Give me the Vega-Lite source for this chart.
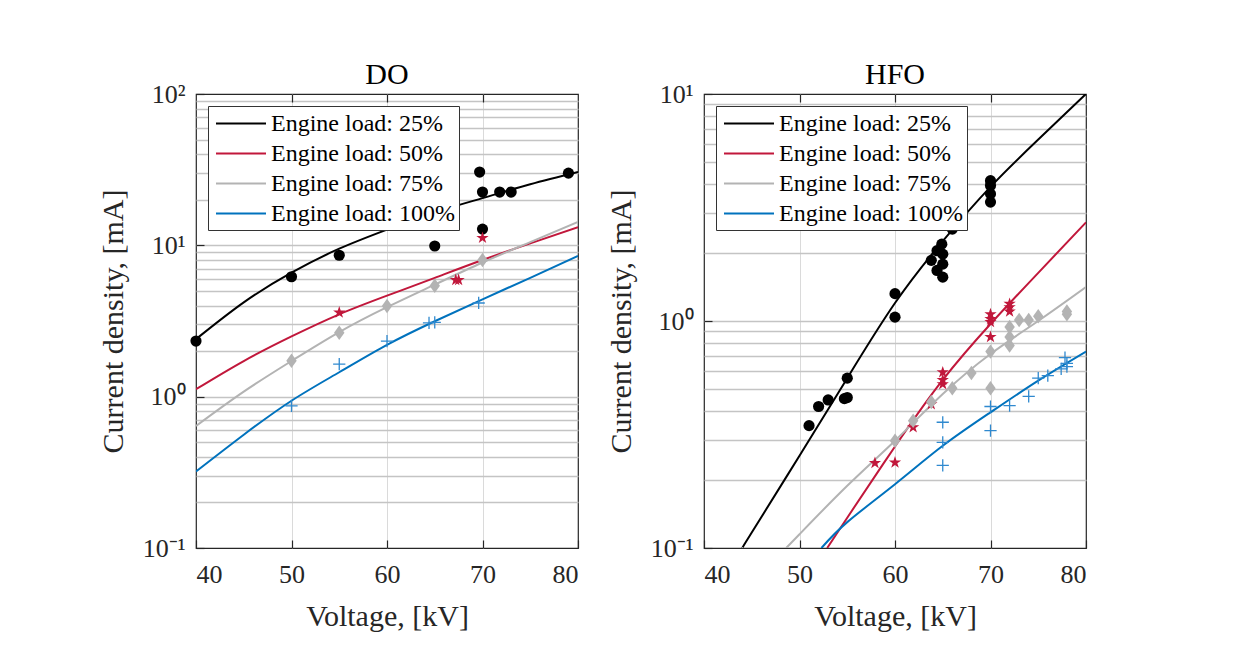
{
  "$schema": "https://vega.github.io/schema/vega-lite/v6.json",
  "background": "white",
  "padding": {"left": 97, "top": 59, "right": 20, "bottom": 10},
  "spacing": 126,
  "bounds": "flush",
  "config": {
    "font": "Liberation Serif",
    "view": {"stroke": "#262626", "strokeWidth": 1.2},
    "axis": {
      "labelFont": "Liberation Serif", "titleFont": "Liberation Serif",
      "labelFontSize": 26, "titleFontSize": 30, "titleFontWeight": "normal",
      "labelColor": "#262626", "titleColor": "#262626", "tickColor": "#262626",
      "gridColor": "#c4c4c4", "gridOpacity": 1, "gridWidth": 1.5, "domain": false, "tickWidth": 1.2
    },
    "title": {"font": "Liberation Serif", "fontSize": 30, "fontWeight": "normal", "color": "black", "offset": -9},
    "legend": {
      "orient": "top-left", "offset": 12, "title": null,
      "strokeColor": "#333333", "fillColor": "white", "padding": 4,
      "symbolType": "M-0.76,0H3.24", "symbolSize": 625, "symbolStrokeWidth": 2,
      "labelFont": "Liberation Serif", "labelFontSize": 24, "labelColor": "black",
      "rowPadding": 4, "labelOffset": 32, "labelLimit": 400
    }
  },
  "datasets": {
    "do_fit": [
      {"load": "Engine load: 25%", "V": 40, "J": 2.4},
      {"load": "Engine load: 25%", "V": 45, "J": 4.2},
      {"load": "Engine load: 25%", "V": 50, "J": 6.6},
      {"load": "Engine load: 25%", "V": 55, "J": 9.5},
      {"load": "Engine load: 25%", "V": 60, "J": 12.7},
      {"load": "Engine load: 25%", "V": 65, "J": 16.5},
      {"load": "Engine load: 25%", "V": 70, "J": 20.5},
      {"load": "Engine load: 25%", "V": 75, "J": 25.3},
      {"load": "Engine load: 25%", "V": 80, "J": 30.5},
      {"load": "Engine load: 50%", "V": 40, "J": 1.12},
      {"load": "Engine load: 50%", "V": 45, "J": 1.72},
      {"load": "Engine load: 50%", "V": 50, "J": 2.5},
      {"load": "Engine load: 50%", "V": 55, "J": 3.5},
      {"load": "Engine load: 50%", "V": 60, "J": 4.65},
      {"load": "Engine load: 50%", "V": 65, "J": 6.1},
      {"load": "Engine load: 50%", "V": 70, "J": 8.0},
      {"load": "Engine load: 50%", "V": 75, "J": 10.3},
      {"load": "Engine load: 50%", "V": 80, "J": 13.2},
      {"load": "Engine load: 75%", "V": 40, "J": 0.64},
      {"load": "Engine load: 75%", "V": 45, "J": 1.08},
      {"load": "Engine load: 75%", "V": 50, "J": 1.72},
      {"load": "Engine load: 75%", "V": 55, "J": 2.67},
      {"load": "Engine load: 75%", "V": 60, "J": 3.9},
      {"load": "Engine load: 75%", "V": 65, "J": 5.5},
      {"load": "Engine load: 75%", "V": 70, "J": 7.7},
      {"load": "Engine load: 75%", "V": 75, "J": 10.5},
      {"load": "Engine load: 75%", "V": 80, "J": 14.3},
      {"load": "Engine load: 100%", "V": 40, "J": 0.32},
      {"load": "Engine load: 100%", "V": 45, "J": 0.56},
      {"load": "Engine load: 100%", "V": 50, "J": 0.94},
      {"load": "Engine load: 100%", "V": 55, "J": 1.45},
      {"load": "Engine load: 100%", "V": 60, "J": 2.2},
      {"load": "Engine load: 100%", "V": 65, "J": 3.15},
      {"load": "Engine load: 100%", "V": 70, "J": 4.4},
      {"load": "Engine load: 100%", "V": 75, "J": 6.1},
      {"load": "Engine load: 100%", "V": 80, "J": 8.5}
    ],
    "do_pts": [
      {"load": "Engine load: 25%", "V": 40, "J": 2.33},
      {"load": "Engine load: 25%", "V": 50, "J": 6.2},
      {"load": "Engine load: 25%", "V": 55, "J": 8.6},
      {"load": "Engine load: 25%", "V": 65, "J": 9.9},
      {"load": "Engine load: 25%", "V": 69.7, "J": 30.5},
      {"load": "Engine load: 25%", "V": 70, "J": 22.5},
      {"load": "Engine load: 25%", "V": 70, "J": 12.8},
      {"load": "Engine load: 25%", "V": 71.8, "J": 22.5},
      {"load": "Engine load: 25%", "V": 73, "J": 22.5},
      {"load": "Engine load: 25%", "V": 79, "J": 30},
      {"load": "Engine load: 50%", "V": 55, "J": 3.6},
      {"load": "Engine load: 50%", "V": 67.2, "J": 5.9},
      {"load": "Engine load: 50%", "V": 67.5, "J": 5.9},
      {"load": "Engine load: 50%", "V": 70, "J": 11.2},
      {"load": "Engine load: 75%", "V": 50, "J": 1.73},
      {"load": "Engine load: 75%", "V": 55, "J": 2.64},
      {"load": "Engine load: 75%", "V": 60, "J": 3.97},
      {"load": "Engine load: 75%", "V": 65, "J": 5.4},
      {"load": "Engine load: 75%", "V": 70, "J": 8.0},
      {"load": "Engine load: 100%", "V": 50, "J": 0.87},
      {"load": "Engine load: 100%", "V": 55, "J": 1.64},
      {"load": "Engine load: 100%", "V": 60, "J": 2.33},
      {"load": "Engine load: 100%", "V": 64.4, "J": 3.07},
      {"load": "Engine load: 100%", "V": 65, "J": 3.1},
      {"load": "Engine load: 100%", "V": 69.6, "J": 4.16}
    ],
    "hfo_fit": [
      {"load": "Engine load: 25%", "V": 44, "J": 0.1},
      {"load": "Engine load: 25%", "V": 45, "J": 0.117},
      {"load": "Engine load: 25%", "V": 50, "J": 0.255},
      {"load": "Engine load: 25%", "V": 55, "J": 0.56},
      {"load": "Engine load: 25%", "V": 60, "J": 1.2},
      {"load": "Engine load: 25%", "V": 65, "J": 2.25},
      {"load": "Engine load: 25%", "V": 70, "J": 3.9},
      {"load": "Engine load: 25%", "V": 75, "J": 6.3},
      {"load": "Engine load: 25%", "V": 80, "J": 10},
      {"load": "Engine load: 50%", "V": 52.9, "J": 0.1},
      {"load": "Engine load: 50%", "V": 55, "J": 0.136},
      {"load": "Engine load: 50%", "V": 60, "J": 0.28},
      {"load": "Engine load: 50%", "V": 65, "J": 0.55},
      {"load": "Engine load: 50%", "V": 70, "J": 0.97},
      {"load": "Engine load: 50%", "V": 75, "J": 1.63},
      {"load": "Engine load: 50%", "V": 80, "J": 2.72},
      {"load": "Engine load: 75%", "V": 48.6, "J": 0.1},
      {"load": "Engine load: 75%", "V": 50, "J": 0.115},
      {"load": "Engine load: 75%", "V": 55, "J": 0.188},
      {"load": "Engine load: 75%", "V": 60, "J": 0.297},
      {"load": "Engine load: 75%", "V": 65, "J": 0.477},
      {"load": "Engine load: 75%", "V": 70, "J": 0.716},
      {"load": "Engine load: 75%", "V": 75, "J": 1.0},
      {"load": "Engine load: 75%", "V": 80, "J": 1.41},
      {"load": "Engine load: 100%", "V": 52.3, "J": 0.1},
      {"load": "Engine load: 100%", "V": 55, "J": 0.13},
      {"load": "Engine load: 100%", "V": 60, "J": 0.191},
      {"load": "Engine load: 100%", "V": 65, "J": 0.282},
      {"load": "Engine load: 100%", "V": 70, "J": 0.396},
      {"load": "Engine load: 100%", "V": 75, "J": 0.546},
      {"load": "Engine load: 100%", "V": 80, "J": 0.733}
    ],
    "hfo_pts": [
      {"load": "Engine load: 25%", "V": 51, "J": 0.346},
      {"load": "Engine load: 25%", "V": 52, "J": 0.42},
      {"load": "Engine load: 25%", "V": 53, "J": 0.449},
      {"load": "Engine load: 25%", "V": 54.7, "J": 0.455},
      {"load": "Engine load: 25%", "V": 55, "J": 0.46},
      {"load": "Engine load: 25%", "V": 55, "J": 0.56},
      {"load": "Engine load: 25%", "V": 60, "J": 1.04},
      {"load": "Engine load: 25%", "V": 60, "J": 1.32},
      {"load": "Engine load: 25%", "V": 63.8, "J": 1.85},
      {"load": "Engine load: 25%", "V": 64.4, "J": 1.67},
      {"load": "Engine load: 25%", "V": 64.4, "J": 2.04},
      {"load": "Engine load: 25%", "V": 64.9, "J": 2.18},
      {"load": "Engine load: 25%", "V": 65, "J": 1.97},
      {"load": "Engine load: 25%", "V": 65, "J": 1.78},
      {"load": "Engine load: 25%", "V": 65, "J": 1.56},
      {"load": "Engine load: 25%", "V": 66, "J": 2.54},
      {"load": "Engine load: 25%", "V": 70, "J": 3.34},
      {"load": "Engine load: 25%", "V": 70, "J": 3.63},
      {"load": "Engine load: 25%", "V": 70, "J": 3.95},
      {"load": "Engine load: 25%", "V": 70, "J": 4.15},
      {"load": "Engine load: 50%", "V": 57.9, "J": 0.237},
      {"load": "Engine load: 50%", "V": 60, "J": 0.238},
      {"load": "Engine load: 50%", "V": 61.9, "J": 0.34},
      {"load": "Engine load: 50%", "V": 63.8, "J": 0.43},
      {"load": "Engine load: 50%", "V": 65, "J": 0.594},
      {"load": "Engine load: 50%", "V": 65, "J": 0.55},
      {"load": "Engine load: 50%", "V": 65, "J": 0.527},
      {"load": "Engine load: 50%", "V": 70, "J": 0.85},
      {"load": "Engine load: 50%", "V": 70, "J": 0.99},
      {"load": "Engine load: 50%", "V": 70, "J": 1.02},
      {"load": "Engine load: 50%", "V": 70, "J": 1.07},
      {"load": "Engine load: 50%", "V": 72, "J": 1.1},
      {"load": "Engine load: 50%", "V": 72, "J": 1.15},
      {"load": "Engine load: 50%", "V": 72, "J": 1.19},
      {"load": "Engine load: 75%", "V": 60, "J": 0.297},
      {"load": "Engine load: 75%", "V": 61.9, "J": 0.364},
      {"load": "Engine load: 75%", "V": 63.8, "J": 0.44},
      {"load": "Engine load: 75%", "V": 66, "J": 0.505},
      {"load": "Engine load: 75%", "V": 68, "J": 0.59},
      {"load": "Engine load: 75%", "V": 70, "J": 0.733},
      {"load": "Engine load: 75%", "V": 70, "J": 0.505},
      {"load": "Engine load: 75%", "V": 72, "J": 0.78},
      {"load": "Engine load: 75%", "V": 72, "J": 0.85},
      {"load": "Engine load: 75%", "V": 72, "J": 0.94},
      {"load": "Engine load: 75%", "V": 73, "J": 1.01},
      {"load": "Engine load: 75%", "V": 74, "J": 1.01},
      {"load": "Engine load: 75%", "V": 75, "J": 1.05},
      {"load": "Engine load: 75%", "V": 78, "J": 1.07},
      {"load": "Engine load: 75%", "V": 78, "J": 1.1},
      {"load": "Engine load: 100%", "V": 65, "J": 0.358},
      {"load": "Engine load: 100%", "V": 65, "J": 0.292},
      {"load": "Engine load: 100%", "V": 65, "J": 0.231},
      {"load": "Engine load: 100%", "V": 70, "J": 0.42},
      {"load": "Engine load: 100%", "V": 70, "J": 0.329},
      {"load": "Engine load: 100%", "V": 72, "J": 0.424},
      {"load": "Engine load: 100%", "V": 74, "J": 0.466},
      {"load": "Engine load: 100%", "V": 75, "J": 0.56},
      {"load": "Engine load: 100%", "V": 76, "J": 0.575},
      {"load": "Engine load: 100%", "V": 77.4, "J": 0.615},
      {"load": "Engine load: 100%", "V": 77.8, "J": 0.69},
      {"load": "Engine load: 100%", "V": 78, "J": 0.65},
      {"load": "Engine load: 100%", "V": 78, "J": 0.63}
    ]
  },
  "resolve": {"scale": {"color": "independent", "shape": "independent", "size": "independent"}, "legend": {"color": "independent"}},
  "hconcat": [
    {
      "title": "DO",
      "width": 382, "height": 454,
      "resolve": {"scale": {"x": "independent", "y": "independent"}},
      "layer": [
        {
          "data": {"name": "do_fit"},
          "mark": {"type": "line", "clip": true, "strokeWidth": 2, "interpolate": "natural"},
          "encoding": {
            "x": {"field": "V", "type": "quantitative", "scale": {"domain": [40, 80], "nice": false, "zero": false},
                  "axis": {"orient": "bottom", "values": [40, 50, 60, 70, 80], "grid": false, "tickSize": -8, "labelPadding": 21, "title": "Voltage, [kV]", "titlePadding": 14}},
            "y": {"field": "J", "type": "quantitative", "scale": {"type": "log", "domain": [0.1, 100], "nice": false},
                  "axis": {"orient": "left", "values": [0.1, 1, 10, 100], "grid": false, "tickSize": -8, "labelPadding": 19,
                           "labelExpr": "datum.value === 100 ? '10²' : datum.value === 10 ? '10¹' : datum.value === 1 ? '10⁰' : '10⁻¹'",
                           "title": "Current density, [mA]", "titlePadding": 14}},
            "color": {"field": "load", "type": "nominal",
                      "scale": {"domain": ["Engine load: 25%", "Engine load: 50%", "Engine load: 75%", "Engine load: 100%"], "range": ["#000000", "#c1173b", "#b3b3b3", "#0072bd"]},
                      "legend": {}}
          }
        },
        {
          "data": {"name": "do_pts"},
          "transform": [{"filter": "datum.load !== 'Engine load: 100%'"}],
          "mark": {"type": "point", "filled": true, "opacity": 1},
          "encoding": {
            "x": {"field": "V", "type": "quantitative", "scale": {"domain": [40, 80], "nice": false, "zero": false},
                  "axis": {"orient": "top", "values": [50, 60, 70], "grid": true, "gridColor": "#dadada", "gridWidth": 1, "labels": false, "tickSize": -8, "title": null}},
            "y": {"field": "J", "type": "quantitative", "scale": {"type": "log", "domain": [0.1, 100], "nice": false},
                  "axis": {"orient": "right", "values": [0.2, 0.3, 0.4, 0.5, 0.6, 0.7, 0.8, 0.9, 1, 2, 3, 4, 5, 6, 7, 8, 9, 10, 20, 30, 40, 50, 60, 70, 80, 90], "grid": true, "labels": false, "ticks": false, "title": null}},
            "color": {"field": "load", "type": "nominal",
                      "scale": {"domain": ["Engine load: 25%", "Engine load: 50%", "Engine load: 75%", "Engine load: 100%"], "range": ["#000000", "#c1173b", "#b3b3b3", "#0072bd"]},
                      "legend": null},
            "shape": {"field": "load", "type": "nominal",
                      "scale": {"domain": ["Engine load: 25%", "Engine load: 50%", "Engine load: 75%"], "range": ["circle", "M0,-1L0.225,-0.309L0.951,-0.309L0.363,0.118L0.588,0.809L0,0.382L-0.588,0.809L-0.363,0.118L-0.951,-0.309L-0.225,-0.309Z", "M0,-1L0.72,0L0,1L-0.72,0Z"]},
                      "legend": null},
            "size": {"field": "load", "type": "nominal",
                     "scale": {"domain": ["Engine load: 25%", "Engine load: 50%", "Engine load: 75%"], "range": [125, 210, 170]},
                     "legend": null}
          }
        },
        {
          "data": {"name": "do_pts"},
          "transform": [{"filter": "datum.load === 'Engine load: 100%'"}],
          "mark": {"type": "point", "filled": false, "shape": "M-1,0H1M0,-1V1", "size": 150, "strokeWidth": 1.3, "color": "#2f89cf", "opacity": 1},
          "encoding": {
            "x": {"field": "V", "type": "quantitative", "scale": {"domain": [40, 80], "nice": false, "zero": false}, "axis": null},
            "y": {"field": "J", "type": "quantitative", "scale": {"type": "log", "domain": [0.1, 100], "nice": false}, "axis": null}
          }
        }
      ]
    },
    {
      "title": "HFO",
      "width": 382, "height": 454,
      "resolve": {"scale": {"x": "independent", "y": "independent"}},
      "layer": [
        {
          "data": {"name": "hfo_fit"},
          "mark": {"type": "line", "clip": true, "strokeWidth": 2, "interpolate": "natural"},
          "encoding": {
            "x": {"field": "V", "type": "quantitative", "scale": {"domain": [40, 80], "nice": false, "zero": false},
                  "axis": {"orient": "bottom", "values": [40, 50, 60, 70, 80], "grid": false, "tickSize": -8, "labelPadding": 21, "title": "Voltage, [kV]", "titlePadding": 14}},
            "y": {"field": "J", "type": "quantitative", "scale": {"type": "log", "domain": [0.1, 10], "nice": false},
                  "axis": {"orient": "left", "values": [0.1, 1, 10], "grid": false, "tickSize": -8, "labelPadding": 19,
                           "labelExpr": "datum.value === 10 ? '10¹' : datum.value === 1 ? '10⁰' : '10⁻¹'",
                           "title": "Current density, [mA]", "titlePadding": 14}},
            "color": {"field": "load", "type": "nominal",
                      "scale": {"domain": ["Engine load: 25%", "Engine load: 50%", "Engine load: 75%", "Engine load: 100%"], "range": ["#000000", "#c1173b", "#b3b3b3", "#0072bd"]},
                      "legend": {}}
          }
        },
        {
          "data": {"name": "hfo_pts"},
          "transform": [{"filter": "datum.load !== 'Engine load: 100%'"}],
          "mark": {"type": "point", "filled": true, "opacity": 1},
          "encoding": {
            "x": {"field": "V", "type": "quantitative", "scale": {"domain": [40, 80], "nice": false, "zero": false},
                  "axis": {"orient": "top", "values": [50, 60, 70], "grid": true, "gridColor": "#dadada", "gridWidth": 1, "labels": false, "tickSize": -8, "title": null}},
            "y": {"field": "J", "type": "quantitative", "scale": {"type": "log", "domain": [0.1, 10], "nice": false},
                  "axis": {"orient": "right", "values": [0.2, 0.3, 0.4, 0.5, 0.6, 0.7, 0.8, 0.9, 1, 2, 3, 4, 5, 6, 7, 8, 9], "grid": true, "labels": false, "ticks": false, "title": null}},
            "color": {"field": "load", "type": "nominal",
                      "scale": {"domain": ["Engine load: 25%", "Engine load: 50%", "Engine load: 75%", "Engine load: 100%"], "range": ["#000000", "#c1173b", "#b3b3b3", "#0072bd"]},
                      "legend": null},
            "shape": {"field": "load", "type": "nominal",
                      "scale": {"domain": ["Engine load: 25%", "Engine load: 50%", "Engine load: 75%"], "range": ["circle", "M0,-1L0.225,-0.309L0.951,-0.309L0.363,0.118L0.588,0.809L0,0.382L-0.588,0.809L-0.363,0.118L-0.951,-0.309L-0.225,-0.309Z", "M0,-1L0.72,0L0,1L-0.72,0Z"]},
                      "legend": null},
            "size": {"field": "load", "type": "nominal",
                     "scale": {"domain": ["Engine load: 25%", "Engine load: 50%", "Engine load: 75%"], "range": [125, 210, 170]},
                     "legend": null}
          }
        },
        {
          "data": {"name": "hfo_pts"},
          "transform": [{"filter": "datum.load === 'Engine load: 100%'"}],
          "mark": {"type": "point", "filled": false, "shape": "M-1,0H1M0,-1V1", "size": 150, "strokeWidth": 1.3, "color": "#2f89cf", "opacity": 1},
          "encoding": {
            "x": {"field": "V", "type": "quantitative", "scale": {"domain": [40, 80], "nice": false, "zero": false}, "axis": null},
            "y": {"field": "J", "type": "quantitative", "scale": {"type": "log", "domain": [0.1, 10], "nice": false}, "axis": null}
          }
        }
      ]
    }
  ]
}
